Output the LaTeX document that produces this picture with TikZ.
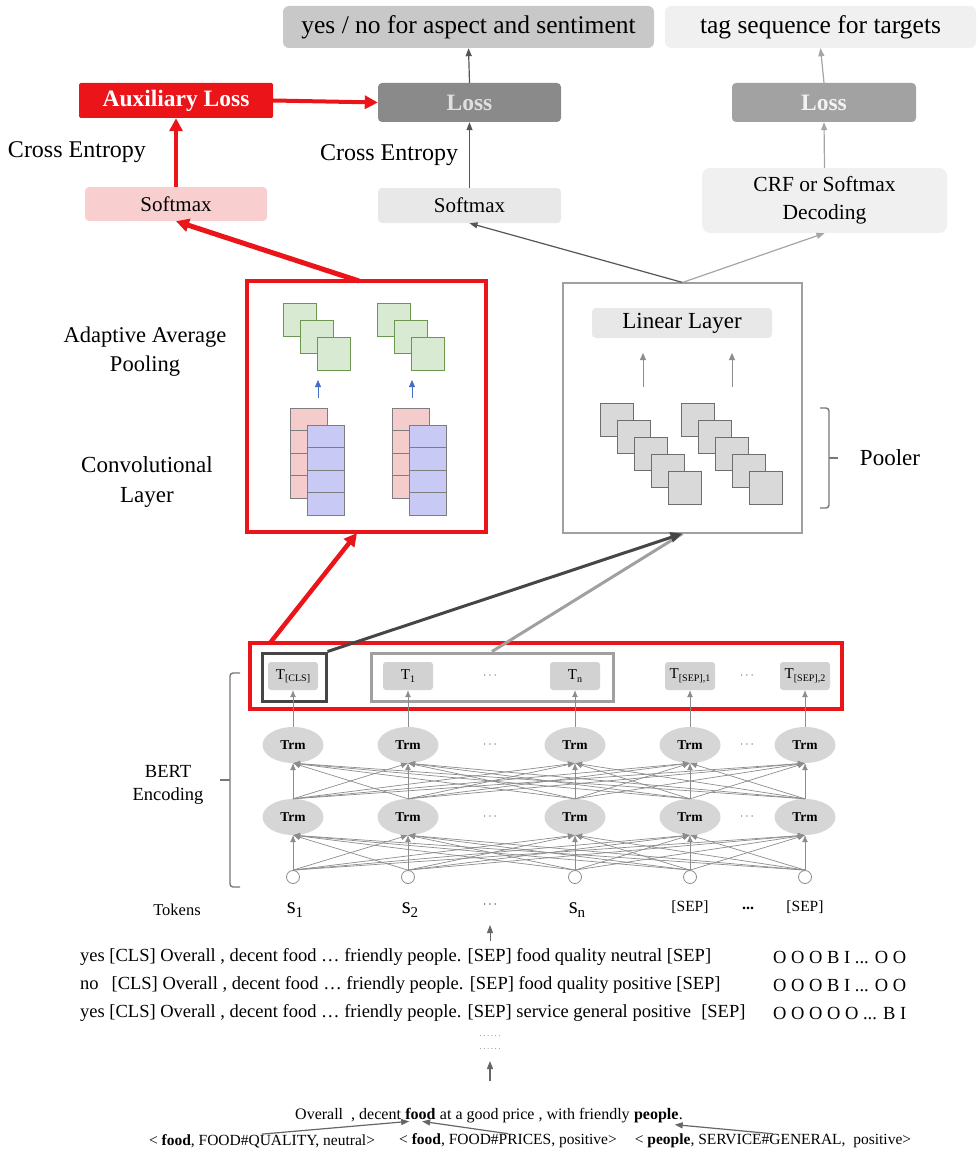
\documentclass[tikz,border=0pt]{standalone}
\usepackage{fontspec}
\setmainfont{Liberation Serif}
\usetikzlibrary{arrows.meta,shapes.geometric,calc}

\definecolor{myred}{RGB}{235,20,25}
\definecolor{pinkbox}{RGB}{249,206,206}
\definecolor{lgray}{RGB}{240,240,240}
\definecolor{mgray}{RGB}{200,200,200}
\definecolor{dgray}{RGB}{138,138,138}
\definecolor{rgray}{RGB}{162,162,162}
\definecolor{smgray}{RGB}{232,232,232}
\definecolor{greenfill}{RGB}{217,234,211}
\definecolor{greenline}{RGB}{106,150,80}
\definecolor{pinkfill}{RGB}{244,204,204}
\definecolor{bluefill}{RGB}{201,201,245}
\definecolor{blockline}{RGB}{125,125,125}
\definecolor{sqfill}{RGB}{217,217,217}
\definecolor{sqline}{RGB}{110,110,110}
\definecolor{trmfill}{RGB}{214,214,214}
\definecolor{tokfill}{RGB}{210,210,210}
\definecolor{arrblue}{RGB}{70,110,200}
\definecolor{darkline}{RGB}{85,85,85}
\definecolor{lightline}{RGB}{165,165,165}
\definecolor{connline}{RGB}{140,140,140}
\definecolor{clsgray}{RGB}{70,70,70}
\definecolor{seqgray}{RGB}{160,160,160}

\newcommand{\fsz}[1]{\fontsize{#1}{#1}\selectfont}
\newcommand{\tsub}[2]{#1\raisebox{-0.35ex}{\fontsize{10}{10}\selectfont #2}}

\tikzset{
  box/.style={rectangle, rounded corners=4pt, inner sep=0pt, align=center},
  redarr/.style={draw=myred, line width=4pt, -{Triangle[length=13pt,width=13pt]}},
  darkarr/.style={draw=darkline, line width=1.2pt, -{Triangle[length=8pt,width=6pt]}},
  lightarr/.style={draw=lightline, line width=1.2pt, -{Triangle[length=8pt,width=6pt]}},
  conn/.style={draw=connline, line width=0.7pt, -{Latex[length=7pt,width=6pt]}},
  greensq/.style={draw=greenline, fill=greenfill, line width=1pt},
  blk/.style={draw=blockline, line width=0.9pt},
  graysq/.style={draw=sqline, fill=sqfill, line width=1pt},
  bracket/.style={draw=darkline!80, line width=1.4pt, rounded corners=3pt},
  trm/.style={ellipse, fill=trmfill, minimum width=61pt, minimum height=36pt, inner sep=0pt, font=\fsz{13.5}\bfseries},
  tok/.style={rectangle, rounded corners=3pt, fill=tokfill, minimum width=50pt, minimum height=28pt, inner sep=0pt, font=\fsz{15}},
  circ/.style={circle, draw=connline, fill=white, line width=0.8pt, minimum size=13pt, inner sep=0pt},
  dotsn/.style={text=darkline, font=\fsz{12}, inner sep=0pt},
  txt/.style={anchor=west, inner sep=0pt, font=\fsz{18.5}},
  sent/.style={anchor=base west, inner sep=0pt, font=\fsz{16}},
  ann/.style={inner sep=0pt, font=\fsz{15.5}},
  botarr/.style={draw=darkline!90, line width=1.2pt, -{Triangle[length=8pt,width=6pt]}}
}

\begin{document}
\begin{tikzpicture}[x=1pt,y=-1pt]
\useasboundingbox (0,0) rectangle (978,1153);

% ---------- top ----------
\node[box, rounded corners=6pt, fill=mgray, minimum width=371pt, minimum height=42pt, font=\fsz{25.5}] (yesno) at (468.5,27) {yes / no for aspect and sentiment};
\node[box, rounded corners=6pt, fill=lgray, minimum width=311pt, minimum height=42pt, font=\fsz{25.5}] (tagseq) at (820.5,27) {tag sequence for targets};
\node[box, rounded corners=1.5pt, fill=myred, text=white, minimum width=194pt, minimum height=35pt, font=\fsz{23.5}\bfseries] (aux) at (176,100.5) {Auxiliary Loss};
\node[box, fill=dgray, text=white!88!black, minimum width=183pt, minimum height=39pt, font=\fsz{23.5}\bfseries] (lossM) at (469.5,102.5) {Loss};
\node[box, fill=rgray, text=white!95!black, minimum width=184pt, minimum height=39pt, font=\fsz{23.5}\bfseries] (lossR) at (824,102.5) {Loss};
\node[font=\fsz{24}, inner sep=0pt] (ce1) at (77,152) {Cross Entropy};
\node[font=\fsz{24}, inner sep=0pt] (ce2) at (389,155) {Cross Entropy};
\node[box, fill=pinkbox, minimum width=182pt, minimum height=34pt, font=\fsz{21}] (smL) at (176,204) {Softmax};
\node[box, fill=smgray, minimum width=183pt, minimum height=35pt, font=\fsz{21}] (smM) at (469.5,205.5) {Softmax};
\node[box, rounded corners=8pt, fill=lgray, minimum width=245pt, minimum height=65pt, font=\fontsize{21.5}{28}\selectfont] (crf) at (824.5,200.5) {CRF or Softmax\\Decoding};

\draw[redarr] (aux.east) -- (lossM.west);
\draw[redarr] (smL.north) -- (aux.south);
\draw[darkarr] (lossM.north) -- (yesno.south);
\draw[darkarr] (smM.north) -- (lossM.south);
\draw[lightarr] (lossR.north) -- (tagseq.south);
\draw[lightarr] (crf.north) -- (lossR.south);

% ---------- middle ----------
\node[draw=myred, line width=4pt, minimum width=239pt, minimum height=251pt, inner sep=0pt] (cnn) at (366.5,406.5) {};
\node[draw=seqgray, line width=1.1pt, minimum width=239pt, minimum height=250pt, inner sep=0pt] (pool) at (682.5,408) {};

\coordinate (cnnout) at (359,281);
\draw[redarr, line width=5pt] (cnnout) -- (smL.south);
\draw[darkarr] (pool.north) -- (smM.south);
\draw[lightarr] (pool.north) -- (crf.south);

% CNN content
\foreach \gx in {283,377} {
  \foreach \k in {0,1,2} {
    \draw[greensq] ({\gx+17*\k},{303+17*\k}) rectangle ++(33,33);
  }
}
\draw[draw=arrblue, line width=0.8pt, -{Triangle[length=7pt,width=6pt]}] (318,398) -- (318,380);
\draw[draw=arrblue, line width=0.8pt, -{Triangle[length=7pt,width=6pt]}] (412,398) -- (412,380);
\foreach \px/\bx in {290/307,392/409} {
  \draw[blk, fill=pinkfill] (\px,408) rectangle ++(37,90);
  \foreach \r in {1,2,3} { \draw[blk] (\px,{408+22.5*\r}) -- ++(37,0); }
  \draw[blk, fill=bluefill] (\bx,425) rectangle ++(37,90);
  \foreach \r in {1,2,3} { \draw[blk] (\bx,{425+22.5*\r}) -- ++(37,0); }
}
\node[font=\fontsize{22.5}{29}\selectfont, align=center, inner sep=0pt] (aap) at (145,352) {Adaptive Average\\Pooling};
\node[font=\fontsize{23}{30}\selectfont, align=center, inner sep=0pt] (conv) at (147,482) {Convolutional\\Layer};

% Pooler content
\node[box, fill=smgray, minimum width=180pt, minimum height=30pt, font=\fsz{23}] (lin) at (682,323) {Linear Layer};
\draw[draw=connline, line width=1pt, -{Triangle[length=7pt,width=6pt]}] (643,387) -- (643,353);
\draw[draw=connline, line width=1pt, -{Triangle[length=7pt,width=6pt]}] (732,387) -- (732,353);
\foreach \gx in {600,681} {
  \foreach \k in {0,...,4} {
    \draw[graysq] ({\gx+17*\k},{403+17*\k}) rectangle ++(33,33);
  }
}
\draw[bracket] (820,408) -- (829,408) -- (829,508) -- (820,508);
\draw[bracket] (829,458) -- (838,458);
\node[font=\fsz{23}, inner sep=0pt] (poolerlbl) at (890,458) {Pooler};

% ---------- BERT ----------
\node[draw=myred, line width=4pt, minimum width=592pt, minimum height=66pt, inner sep=0pt] (bert) at (546,676) {};
\node[draw=clsgray, line width=3pt, minimum width=64pt, minimum height=48pt, inner sep=0pt] (clsbox) at (294,677) {};
\node[draw=seqgray, line width=3pt, minimum width=242pt, minimum height=48pt, inner sep=0pt] (seqbox) at (492,677) {};

\node[tok] (tc) at (293,676) {\tsub{T}{[CLS]}};
\node[tok] (t1) at (408,676) {\tsub{T}{1}};
\node[tok] (tn) at (575,676) {\tsub{T}{n}};
\node[tok] (ts1) at (690,676) {\tsub{T}{[SEP],1}};
\node[tok] (ts2) at (805,676) {\tsub{T}{[SEP],2}};
\node[dotsn] (td1) at (490,676) {$\cdots$};
\node[dotsn] (td2) at (747,676) {$\cdots$};

\draw[draw=seqgray, line width=3pt] (seqbox.north) -- (pool.south);
\draw[draw=clsgray, line width=3pt, -{Triangle[length=12pt,width=10pt]}] (clsbox.north east) -- (pool.south);
\coordinate (bertout) at (270,643);
\coordinate (cnnin) at (357,533);
\draw[redarr, line width=4.5pt] (bertout) -- (cnnin);

\foreach \x/\n in {293/a,408/b,575/c,690/d,805/e} {
  \node[trm] (u\n) at (\x,745) {Trm};
  \node[trm] (l\n) at (\x,817) {Trm};
  \node[circ] (c\n) at (\x,877) {};
}
\foreach \s in {a,b,c,d,e} {
  \foreach \t in {a,b,c,d,e} {
    \draw[conn] (l\s.north) -- (u\t.south);
    \draw[conn] (c\s.north) -- (l\t.south);
  }
}
\foreach \n/\k in {a/tc,b/t1,c/tn,d/ts1,e/ts2} {
  \draw[conn] (u\n.north) -- (\k.south);
}
\node[dotsn] (ud1) at (490,745) {$\cdots$};
\node[dotsn] (ud2) at (747,745) {$\cdots$};
\node[dotsn] (ld1) at (490,817) {$\cdots$};
\node[dotsn] (ld2) at (747,817) {$\cdots$};

\draw[bracket] (240,673) -- (230,673) -- (230,887) -- (240,887);
\draw[bracket] (230,780) -- (220,780);
\node[font=\fontsize{18.5}{23}\selectfont, align=center, inner sep=0pt] (bertlbl) at (168,785) {BERT\\Encoding};

% ---------- tokens ----------
\node[font=\fsz{16.5}, inner sep=0pt] (tokens) at (177,910) {Tokens};
\node[font=\fsz{23}, inner sep=0pt] (s1) at (295,910) {s\raisebox{-0.3ex}{\fsz{15}1}};
\node[font=\fsz{23}, inner sep=0pt] (s2) at (410,910) {s\raisebox{-0.3ex}{\fsz{15}2}};
\node[font=\fsz{23}, inner sep=0pt] (sn) at (577,910) {s\raisebox{-0.3ex}{\fsz{15}n}};
\node[dotsn, text=black] (sdots) at (490,905) {$\cdots$};
\node[font=\fsz{15.5}, inner sep=0pt] (sep1) at (690,907) {[SEP]};
\node[font=\fsz{15.5}, inner sep=0pt] (sep2) at (805,907) {[SEP]};
\node[font=\fsz{16}\bfseries, inner sep=0pt] (sepdots) at (748,908) {...};
\coordinate (tokarr) at (490,941);
\coordinate (tokarrend) at (490,925);
\draw[botarr, line width=1pt] (tokarr) -- (tokarrend);

\node[txt] (l1) at (80,957) {yes [CLS] Overall , decent food … friendly people. [SEP] food quality neutral [SEP]};
\node[txt] (l2) at (80,985) {no\hspace{0.7em}[CLS] Overall , decent food … friendly people. [SEP] food quality positive [SEP]};
\node[txt] (l3) at (80,1013) {yes [CLS] Overall , decent food … friendly people. [SEP] service general positive\hspace{0.3em} [SEP]};
\node[txt] (r1) at (773,957) {O O O B I ... O O};
\node[txt] (r2) at (773,985) {O O O B I ... O O};
\node[txt] (r3) at (773,1013) {O O O O O ... B I};

\node[font=\fsz{9}, text=darkline!70, inner sep=0pt] (dd1) at (490,1036) {.\,.\,.\,.\,.\,.};
\node[font=\fsz{9}, text=darkline!70, inner sep=0pt] (dd2) at (490,1049) {.\,.\,.\,.\,.\,.};

\node[sent] (sa) at (295,1119) {Overall\hspace{0.5em}, decent};
\node[sent, font=\fsz{16}\bfseries] (food) at ($(sa.base east)+(4,0)$) {food};
\node[sent] (sb) at ($(food.base east)+(4,0)$) {at a good price , with friendly};
\node[sent, font=\fsz{16}\bfseries] (people) at ($(sb.base east)+(4,0)$) {people};
\node[sent] (sc) at (people.base east) {.};

\coordinate (sentarr) at (490,1081);
\coordinate (sentarrend) at (490,1061);
\draw[botarr] (sentarr) -- (sentarrend);

\node[ann] (ann1) at (262,1141) {< \textbf{food}, FOOD\#QUALITY, neutral>};
\node[ann] (ann2) at (508,1141) {< \textbf{food}, FOOD\#PRICES, positive>};
\node[ann] (ann3) at (773,1141) {< \textbf{people}, SERVICE\#GENERAL,\ \ positive>};

\draw[botarr] (ann1.north) -- ($(food.south west)+(4,2)$);
\draw[botarr] (ann2.north) -- ($(food.south west)+(17,2)$);
\draw[botarr] (ann3.north) -- ($(people.south east)+(-4,2)$);
\end{tikzpicture}
\end{document}
